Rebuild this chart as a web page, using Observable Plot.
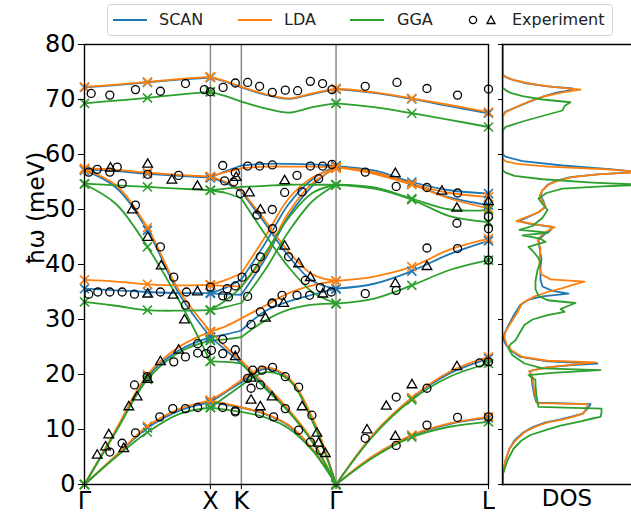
<!DOCTYPE html>
<html>
<head>
<meta charset="utf-8">
<script src="https://cdn.jsdelivr.net/npm/d3@7"></script>
<script src="https://cdn.jsdelivr.net/npm/@observablehq/plot@0.6"></script>
<style>
  html, body { margin: 0; padding: 0; background: white; overflow: hidden; }
  #fig { position: relative; width: 631px; height: 515px; font-family: "DejaVu Sans", sans-serif; }
  #fig > svg { position: absolute; top: 0; }
  #legend { position: absolute; left: 107px; top: 4px; width: 504px; height: 30px;
            border: 1px solid #d4d4d4; border-radius: 4px; background: rgba(255,255,255,0.9);
            font-size: 16px; color: #222; }
  #legend > * { position: absolute; }
</style>
</head>
<body>
<div id="fig"></div>
<script>
// Phonon dispersion along Γ–X–K–Γ–L and phonon DOS, three functionals vs. experiment.
const methods = ["SCAN", "LDA", "GGA"];
const colors = ["#1f77b4", "#ff7f0e", "#2ca02c"];

// high-symmetry points along the path
const kLabels = ["Γ", "X", "K", "Γ", "L"];
const kTicks = [0, 1, 1.246, 1.998, 3.209];
const yTicks = [0, 10, 20, 30, 40, 50, 60, 70, 80];

// sampling of each path segment
const kGX = [0, 0.25, 0.5, 0.75, 1];
const kXK = [1, 1.123, 1.246];
const kKG = [1.246, 1.434, 1.622, 1.81, 1.998];
const kGL = [1.998, 2.3, 2.6, 2.9, 3.209];
// q-points where the calculation was done (× markers)
const kComputed = [0, 0.5, 1, 1.998, 2.6, 3.209];

// ---- SCAN branches (meV) ----
const scanGX = [
  [72.2, 72.6, 73.1, 73.6, 74.0],
  [57.3, 57.0, 56.5, 56.1, 55.8],
  [57.1, 54.0, 46.2, 34.7, 26.8],
  [35.6, 35.3, 35.0, 34.8, 34.8],
  [0, 9.8, 19.6, 24.4, 26.8],
  [0, 5.2, 10.3, 13.4, 15.0]
];
const scanXK = [
  [74.0, 73.2, 72.2], [55.8, 57.0, 58.0], [55.8, 54.8, 53.3],
  [34.8, 35.8, 37.3], [34.8, 34.6, 34.5], [26.8, 27.3, 28.0],
  [26.8, 24.4, 22.0], [15.0, 16.8, 18.6], [15.0, 14.5, 14.0]
];
const scanKG = [
  [72.2, 70.9, 70.1, 71.0, 71.9],
  [58.0, 58.3, 58.3, 58.2, 57.9],
  [53.3, 47.5, 41.5, 37.0, 35.6],
  [37.3, 43.8, 51.0, 55.5, 57.9],
  [34.5, 41.0, 48.8, 54.3, 57.9],
  [28.0, 31.5, 33.3, 34.5, 35.6],
  [22.0, 17.8, 13.4, 7.9, 0],
  [18.6, 21.0, 19.2, 11.9, 0],
  [14.0, 12.8, 10.7, 6.4, 0]
];
const scanGL = [
  [71.9, 71.2, 70.1, 68.8, 67.5],
  [57.9, 57.1, 55.0, 53.5, 52.9],
  [57.9, 56.7, 54.6, 52.2, 50.8],
  [35.6, 36.5, 38.8, 41.9, 44.3],
  [0, 9.2, 15.7, 20.2, 22.9],
  [0, 5.2, 8.9, 11.0, 12.1]
];

// ---- LDA branches (meV) ----
const ldaGX = [
  [72.3, 72.7, 73.2, 73.7, 74.1],
  [57.5, 57.2, 56.7, 56.3, 56.0],
  [57.3, 54.4, 46.7, 35.3, 27.8],
  [37.2, 36.9, 36.4, 36.2, 36.3],
  [0, 10.0, 20.0, 25.0, 27.8],
  [0, 5.3, 10.6, 13.7, 15.3]
];
const ldaXK = [
  [74.1, 73.3, 72.3], [56.0, 56.8, 57.5], [56.0, 55.0, 53.5],
  [36.3, 37.2, 38.4], [36.3, 36.1, 36.0], [27.8, 28.8, 30.2],
  [27.8, 25.0, 22.5], [15.3, 17.0, 19.0], [15.3, 14.7, 14.0]
];
const ldaKG = [
  [72.3, 71.0, 70.2, 71.1, 72.0],
  [57.5, 57.8, 57.8, 57.8, 57.7],
  [53.5, 48.0, 42.3, 38.2, 37.0],
  [38.4, 45.0, 52.0, 55.8, 57.5],
  [36.0, 41.5, 49.5, 54.8, 57.5],
  [30.2, 32.5, 34.8, 36.2, 37.0],
  [22.5, 18.2, 13.6, 8.0, 0],
  [19.0, 21.3, 19.4, 12.2, 0],
  [14.0, 12.9, 10.8, 6.5, 0]
];
const ldaGL = [
  [72.0, 71.3, 70.2, 69.0, 67.7],
  [57.7, 56.8, 54.7, 53.0, 52.3],
  [57.7, 56.5, 54.5, 52.0, 50.2],
  [37.0, 37.8, 39.6, 42.7, 44.7],
  [0, 9.3, 15.8, 20.5, 23.2],
  [0, 5.3, 9.0, 11.1, 12.3]
];

// ---- GGA branches (meV) ----
const ggaGX = [
  [69.3, 69.8, 70.3, 70.9, 71.4],
  [54.7, 54.4, 54.1, 53.8, 53.5],
  [54.6, 51.0, 43.2, 33.5, 22.4],
  [33.2, 32.5, 31.7, 31.6, 31.7],
  [0, 9.6, 19.1, 24.0, 26.2],
  [0, 5.0, 9.5, 12.8, 14.0]
];
const ggaXK = [
  [71.4, 70.6, 69.6], [53.5, 53.8, 54.1], [53.5, 53.0, 52.0],
  [31.7, 33.5, 35.9], [31.7, 32.3, 33.0], [26.2, 26.4, 26.8],
  [22.4, 22.3, 22.0], [14.0, 16.0, 18.0], [14.0, 13.6, 13.2]
];
const ggaKG = [
  [69.6, 68.4, 67.6, 68.6, 69.3],
  [54.1, 54.3, 54.5, 54.5, 54.5],
  [52.0, 45.5, 39.5, 35.0, 32.9],
  [35.9, 42.0, 48.5, 53.0, 54.5],
  [33.0, 39.0, 46.0, 51.5, 54.5],
  [26.8, 29.8, 31.8, 32.7, 32.9],
  [22.0, 17.5, 13.2, 7.7, 0],
  [18.0, 20.4, 19.0, 11.5, 0],
  [13.2, 12.2, 10.2, 6.2, 0]
];
const ggaGL = [
  [69.3, 68.6, 67.5, 66.3, 65.0],
  [54.5, 54.0, 52.0, 50.0, 49.9],
  [54.5, 53.8, 51.8, 48.8, 47.7],
  [32.9, 33.8, 36.2, 39.0, 40.8],
  [0, 9.0, 15.4, 19.6, 22.0],
  [0, 5.0, 8.6, 10.5, 11.4]
];

// ---- experiment: [q, meV] ----
const expCircles = [
  [0.053,71.1],[0.201,70.8],[0.405,71.8],[0.603,71.5],[0.802,72.9],[0.952,71.8],[1.0,71.4],[1.101,72.2],
  [1.198,73.0],[1.296,73.1],[1.391,72.4],[1.492,71.3],[1.595,71.7],[1.693,71.6],[1.794,73.3],[1.891,72.9],
  [1.966,71.8],[2.230,72.4],[2.482,73.1],[2.720,72.0],[2.963,70.8],[3.209,71.9],
  [0.034,56.8],[0.101,57.3],[0.201,56.8],[0.260,57.7],[0.299,54.7],[0.502,56.4],[0.748,56.2],[1.098,58.0],
  [1.113,55.2],[1.185,55.0],[1.198,56.7],[1.296,57.9],[1.391,57.9],[1.492,58.1],[1.794,57.9],[1.891,57.9],
  [1.966,58.2],[1.688,56.2],[1.860,55.6],[1.590,53.1],[1.728,53.2],[1.238,52.9],[1.370,49.0],[1.492,50.0],
  [1.494,46.5],[1.621,41.4],[1.397,41.4],[1.357,39.3],[1.754,37.1],[1.873,35.8],[1.960,35.0],
  [0.405,50.8],[0.603,43.2],[0.709,37.7],[0.802,32.6],
  [0.034,34.6],[0.106,35.0],[0.201,35.0],[0.299,35.0],[0.397,34.6],[0.603,35.0],[0.810,35.0],[1.0,35.9],
  [1.098,34.3],[1.133,35.6],[1.198,36.1],[1.252,37.7],[1.296,34.2],[1.492,33.0],[1.569,34.4],[1.688,34.4],
  [1.788,34.4],[1.143,34.1],
  [1.490,32.9],[1.397,31.4],[1.323,29.1],[0.899,25.6],[0.899,23.9],[0.966,23.8],[1.008,24.4],[1.098,23.8],
  [1.198,24.5],[1.098,26.4],[1.336,20.8],[1.323,17.5],[1.397,18.1],[1.410,20.8],[1.494,21.3],[1.595,19.6],
  [1.701,17.7],[1.595,13.8],[1.806,12.6],[1.198,13.4],[1.502,12.3],[1.701,9.9],[1.794,7.7],[1.873,6.2],
  [0.201,5.9],[0.299,7.5],[0.405,9.4],[0.397,18.1],[0.498,19.6],[0.598,12.3],[0.709,22.3],[0.701,13.8],
  [0.802,23.2],[0.802,13.8],[0.899,14.0],[1.098,14.0],[1.198,13.2],[1.391,12.9],[1.296,19.3],
  [2.230,56.8],[2.476,54.2],[2.720,54.0],[2.963,53.0],[2.958,47.5],[2.720,43.0],[2.963,42.9],[2.476,35.3],
  [2.230,34.7],[3.209,48.7],[3.209,46.5],[3.209,40.8],[2.476,15.9],[2.720,17.5],[3.138,22.1],[3.209,22.3],
  [2.230,8.4],[2.476,7.1],[2.720,10.8],[2.963,12.2],[3.209,12.3]
];
const expTriangles = [
  [0.206,57.5],[0.502,58.2],[0.694,55.3],[0.897,54.2],[1.205,55.8],[0.379,49.9],[0.502,44.9],[0.609,39.7],
  [0.794,29.9],[0.502,34.6],[0.704,34.4],[0.897,35.0],[1.310,53.0],[1.397,49.9],[1.437,30.2],[1.590,55.2],
  [1.590,43.3],[1.701,40.1],[1.794,37.6],[1.893,34.6],[1.582,32.9],[1.198,23.2],[1.323,19.3],[1.490,15.9],
  [1.323,15.3],[1.397,14.1],[1.728,14.1],[1.846,9.3],[1.860,7.5],[1.913,5.6],[0.101,5.3],[0.193,9.0],
  [0.312,6.5],[0.167,6.8],[0.352,14.1],[0.418,15.9],[0.502,19.1],[0.603,22.3],[0.748,24.4],
  [2.469,56.5],[2.839,53.3],[2.958,50.2],[2.720,39.6],[2.469,36.5],[3.209,51.4],[2.397,14.2],[2.601,18.1],
  [2.958,21.4],[2.244,9.9],[2.469,8.7]
];

// ---- phonon DOS: [meV, DOS (arb. units)] ----
const dosSCAN = [
  [0,0],[2,0.5],[4.4,3],[6.5,7],[8,12],[9.5,21],[10.5,31],[11.3,43],[11.8,57],[12.4,70],[12.9,80],[14.0,86],
  [14.6,88],[14.9,34],[16,32],[18,30],[19.6,29],[20.6,27],[21.3,44],[21.7,70],[22.0,95],[22.4,45],[23.2,18],
  [24.4,8],[25.5,3],[26.5,1],[27.5,2],[29.3,7],[31.0,12],[32.7,18],[33.6,26],[34.2,40],[34.7,66],[35.2,50],
  [36.0,40],[37.2,38],[39.5,38],[41,39],[43,37],[44.5,36],[45.5,42],[46.2,48],[46.8,50],[47.4,28],[47.9,16],
  [48.5,24],[49.5,36],[50.5,43],[51.5,41],[52.5,38],[53.5,40],[54.5,45],[55.3,55],[55.9,68],[56.4,95],
  [56.8,135],[57.3,110],[58.0,60],[58.8,20],[59.6,3],[60.1,0],[67.0,0],[67.8,3],[68.6,14],[69.6,27],[70.6,42],
  [71.3,55],[71.6,66],[72.0,70],[72.4,45],[73.0,22],[73.7,8],[74.2,2],[74.6,0],[80,0]
];
const dosLDA = [
  [0,0],[2,0.5],[4.4,3],[6.5,7],[8,13],[9.5,22],[10.5,33],[11.3,45],[11.8,60],[12.4,72],[12.9,81],[14.0,84],
  [14.6,85],[14.8,35],[16,33],[18,31],[19.6,30],[20.6,27],[21.3,45],[21.8,70],[22.2,93],[22.5,45],[23.2,20],
  [24.4,9],[25.5,4],[26.8,2],[27.8,3],[29.3,8],[31.0,14],[33.0,20],[34.2,32],[35.0,45],[35.7,60],[36.4,72],
  [36.9,82],[37.3,48],[38.2,39],[39.5,37],[41,37],[43,38],[44.5,35],[45.5,40],[46.2,46],[46.8,52],[47.4,30],
  [47.9,14],[48.5,22],[49.5,36],[50.5,43],[51.5,40],[52.5,37],[53.5,40],[54.5,46],[55.3,56],[55.9,70],
  [56.4,95],[56.8,140],[57.3,105],[57.8,45],[58.3,15],[58.7,4],[59.2,0],[66.8,0],[67.7,3],[68.5,12],[69.5,25],
  [70.5,40],[71.3,60],[71.8,78],[72.2,55],[72.8,30],[73.5,12],[74.1,3],[74.6,0],[80,0]
];
const dosGGA = [
  [0,0],[2,0.6],[4.4,5],[6.5,11],[8,19],[9.0,28],[9.9,43],[10.7,58],[11.4,76],[12.0,90],[12.3,98],[13.0,99],
  [13.8,99],[14.1,36],[16,34],[18,33],[19.0,33],[19.9,26],[20.3,50],[20.6,80],[20.8,98],[21.1,40],[22,22],
  [23.5,10],[24.7,6],[25.5,8],[26.2,13],[27.5,17],[29.0,22],[30.0,30],[30.8,45],[31.4,62],[31.9,58],[32.5,66],
  [33.0,73],[33.5,45],[34.3,36],[35.5,33],[37,33],[39,35],[40.5,38],[41.4,35],[42.5,30],[43.2,26],[44.1,43],
  [44.7,38],[45.3,20],[45.8,46],[46.3,17],[47.0,30],[48.5,40],[49.9,45],[51.0,40],[52.0,36],[53.0,44],
  [53.8,60],[54.2,100],[54.5,140],[54.9,90],[55.5,40],[56.1,12],[56.7,3],[57.2,0],[64.3,0],[65.0,3],[66.0,20],
  [67.0,40],[68.0,60],[68.8,62],[69.5,68],[70.0,40],[70.6,20],[71.2,8],[71.7,3],[72.2,0],[80,0]
];

// ---- assemble tables ----
const segments = [
  {name: "GX", k: kGX, bands: [scanGX, ldaGX, ggaGX]},
  {name: "XK", k: kXK, bands: [scanXK, ldaXK, ggaXK]},
  {name: "KG", k: kKG, bands: [scanKG, ldaKG, ggaKG]},
  {name: "GL", k: kGL, bands: [scanGL, ldaGL, ggaGL]}
];
const bandRows = [];
methods.forEach((m, mi) => {
  segments.forEach(seg => {
    seg.bands[mi].forEach((branch, bi) => {
      branch.forEach((E, i) => bandRows.push({method: m, id: `${m}-${seg.name}-${bi}`, k: seg.k[i], E}));
    });
  });
});
const computedRows = bandRows.filter(d => kComputed.some(k => Math.abs(k - d.k) < 1e-6));
const dosRows = [];
[dosSCAN, dosLDA, dosGGA].forEach((arr, mi) => arr.forEach(([E, v]) => dosRows.push({method: methods[mi], E, v})));
const circleRows = expCircles.map(([k, E]) => ({k, E}));
const triRows = expTriangles.map(([k, E]) => ({k, E}));

const colorScale = {domain: methods, range: colors};
const font = "DejaVu Sans, sans-serif";

// ---- dispersion panel ----
const disp = Plot.plot({
  width: 495, height: 515,
  marginLeft: 84, marginRight: 7, marginTop: 44, marginBottom: 31,
  x: {domain: [0, 3.209], axis: null},
  y: {domain: [0, 80], axis: null},
  color: colorScale,
  style: {fontFamily: font, fontSize: "24px", color: "black", background: "white"},
  marks: [
    Plot.ruleX(kTicks.slice(1, 4), {stroke: "#8a8a8a", strokeWidth: 1.5}),
    Plot.line(bandRows, {x: "k", y: "E", z: "id", stroke: "method", strokeWidth: 1.8, curve: "catmull-rom"}),
    Plot.dot(computedRows, {x: "k", y: "E", stroke: "method", symbol: "times", r: 4.2, strokeWidth: 1.6}),
    Plot.dot(circleRows, {x: "k", y: "E", r: 4.0, stroke: "black", strokeWidth: 1.3, fill: "none"}),
    Plot.dot(triRows, {x: "k", y: "E", symbol: "triangle", r: 3.6, stroke: "black", strokeWidth: 1.3, fill: "none"}),
    Plot.frame({stroke: "black", strokeWidth: 1.4}),
    Plot.axisY({ticks: yTicks, tickSize: 6, tickPadding: 3, label: null, fontSize: 24}),
    Plot.axisX({ticks: kTicks, tickFormat: (d, i) => kLabels[i], tickSize: 5, tickPadding: 2, label: null, fontSize: 24}),
    Plot.text(["ħω (meV)"], {frameAnchor: "left", rotate: -90, dx: -48, fontSize: 23, lineAnchor: "middle"})
  ]
});

// ---- DOS panel ----
const dos = Plot.plot({
  width: 136, height: 515,
  marginLeft: 7, marginRight: 0, marginTop: 44, marginBottom: 31,
  x: {domain: [0, 129], axis: null},
  y: {domain: [0, 80], axis: null},
  color: colorScale,
  style: {fontFamily: font, fontSize: "22px", color: "black", background: "transparent"},
  marks: [
    Plot.line(dosRows, {x: "v", y: "E", z: "method", stroke: "method", strokeWidth: 1.8, clip: true}),
    Plot.frame({anchor: "left", stroke: "black", strokeWidth: 1.4}),
    Plot.frame({anchor: "top", stroke: "black", strokeWidth: 1.4}),
    Plot.frame({anchor: "bottom", stroke: "black", strokeWidth: 1.4}),
    Plot.axisY({ticks: yTicks, tickSize: 4, tickFormat: () => "", label: null}),
    Plot.text(["DOS"], {frameAnchor: "bottom", lineAnchor: "top", dy: 5, fontSize: 23})
  ]
});

const fig = document.getElementById("fig");
disp.style.left = "0px";
dos.style.left = "495px";
fig.append(disp, dos);

// ---- legend ----
const legend = document.createElement("div");
legend.id = "legend";
const ns = "http://www.w3.org/2000/svg";
const swatchX = [5, 130, 242];
const labelX = [51, 176, 289];
methods.forEach((m, i) => {
  const s = document.createElementNS(ns, "svg");
  s.setAttribute("width", 34); s.setAttribute("height", 6);
  s.style.left = swatchX[i] + "px"; s.style.top = "12px";
  s.innerHTML = `<line x1="0" x2="34" y1="3" y2="3" stroke="${colors[i]}" stroke-width="2"/>`;
  legend.append(s);
  const t = document.createElement("span");
  t.textContent = m; t.style.left = labelX[i] + "px"; t.style.top = "5px";
  legend.append(t);
});
const sym = document.createElementNS(ns, "svg");
sym.setAttribute("width", 36); sym.setAttribute("height", 14);
sym.style.left = "359px"; sym.style.top = "8px";
sym.innerHTML = `<circle cx="6" cy="7" r="3.6" fill="none" stroke="black" stroke-width="1.3"/>
  <path d="M24,3 L28,10.5 L20,10.5 Z" fill="none" stroke="black" stroke-width="1.3"/>`;
legend.append(sym);
const et = document.createElement("span");
et.textContent = "Experiment"; et.style.left = "404px"; et.style.top = "5px";
legend.append(et);
fig.append(legend);
</script>
</body>
</html>
